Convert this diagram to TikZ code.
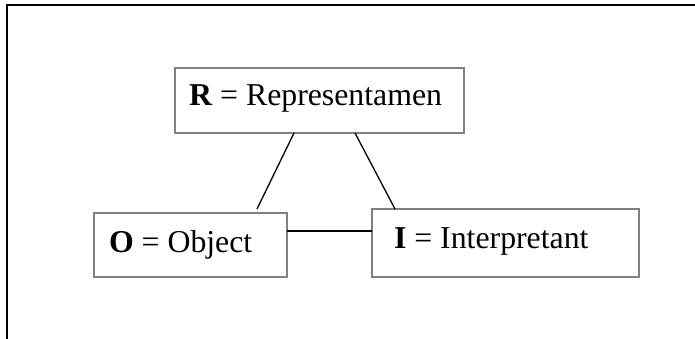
\documentclass[tikz,border=0pt]{standalone}
\usepackage{fontspec}
\setmainfont{Liberation Serif}
\usetikzlibrary{calc}
\definecolor{boxgray}{RGB}{128,128,128}
\tikzset{
  sbox/.style={draw=boxgray, line width=1.6pt, inner sep=0pt, outer sep=0pt, rectangle},
  lbl/.style={anchor=base west, inner sep=0pt, outer sep=0pt, font=\fontsize{31.8}{38}\selectfont},
  conn/.style={draw=black, line width=1.3pt},
  frameline/.style={draw=black, line width=2pt}
}
\begin{document}
\begin{tikzpicture}[x=1pt, y=-1pt]
\useasboundingbox (0,0) rectangle (695,339);
% outer frame (open at right and bottom)
\draw[frameline] (7,339) -- (7,5) -- (695,5);
% boxes
\node[sbox, minimum width=289pt, minimum height=65pt] (R) at (319.5,100.5) {};
\node[sbox, minimum width=193pt, minimum height=64pt] (O) at (190.5,245) {};
\node[sbox, minimum width=267pt, minimum height=68pt] (I) at (505.5,243) {};
% labels
\node[lbl] (Rt) at (189,106) {\textbf{R} = Representamen};
\node[lbl] (Ot) at (109,252) {\textbf{O} = Object};
\node[lbl] (It) at (394,248) {\textbf{I} = Interpretant};
% connectors
\draw[conn] ($(R.south west)+(119,0)$) -- ($(O.north west)+(163,-4)$);
\draw[conn] ($(R.south west)+(180,0)$) -- ($(I.north west)+(23,0)$);
\draw[conn] ($(O.north east)+(0,18)$) -- ($(I.north west)+(0,22)$);
\end{tikzpicture}
\end{document}
